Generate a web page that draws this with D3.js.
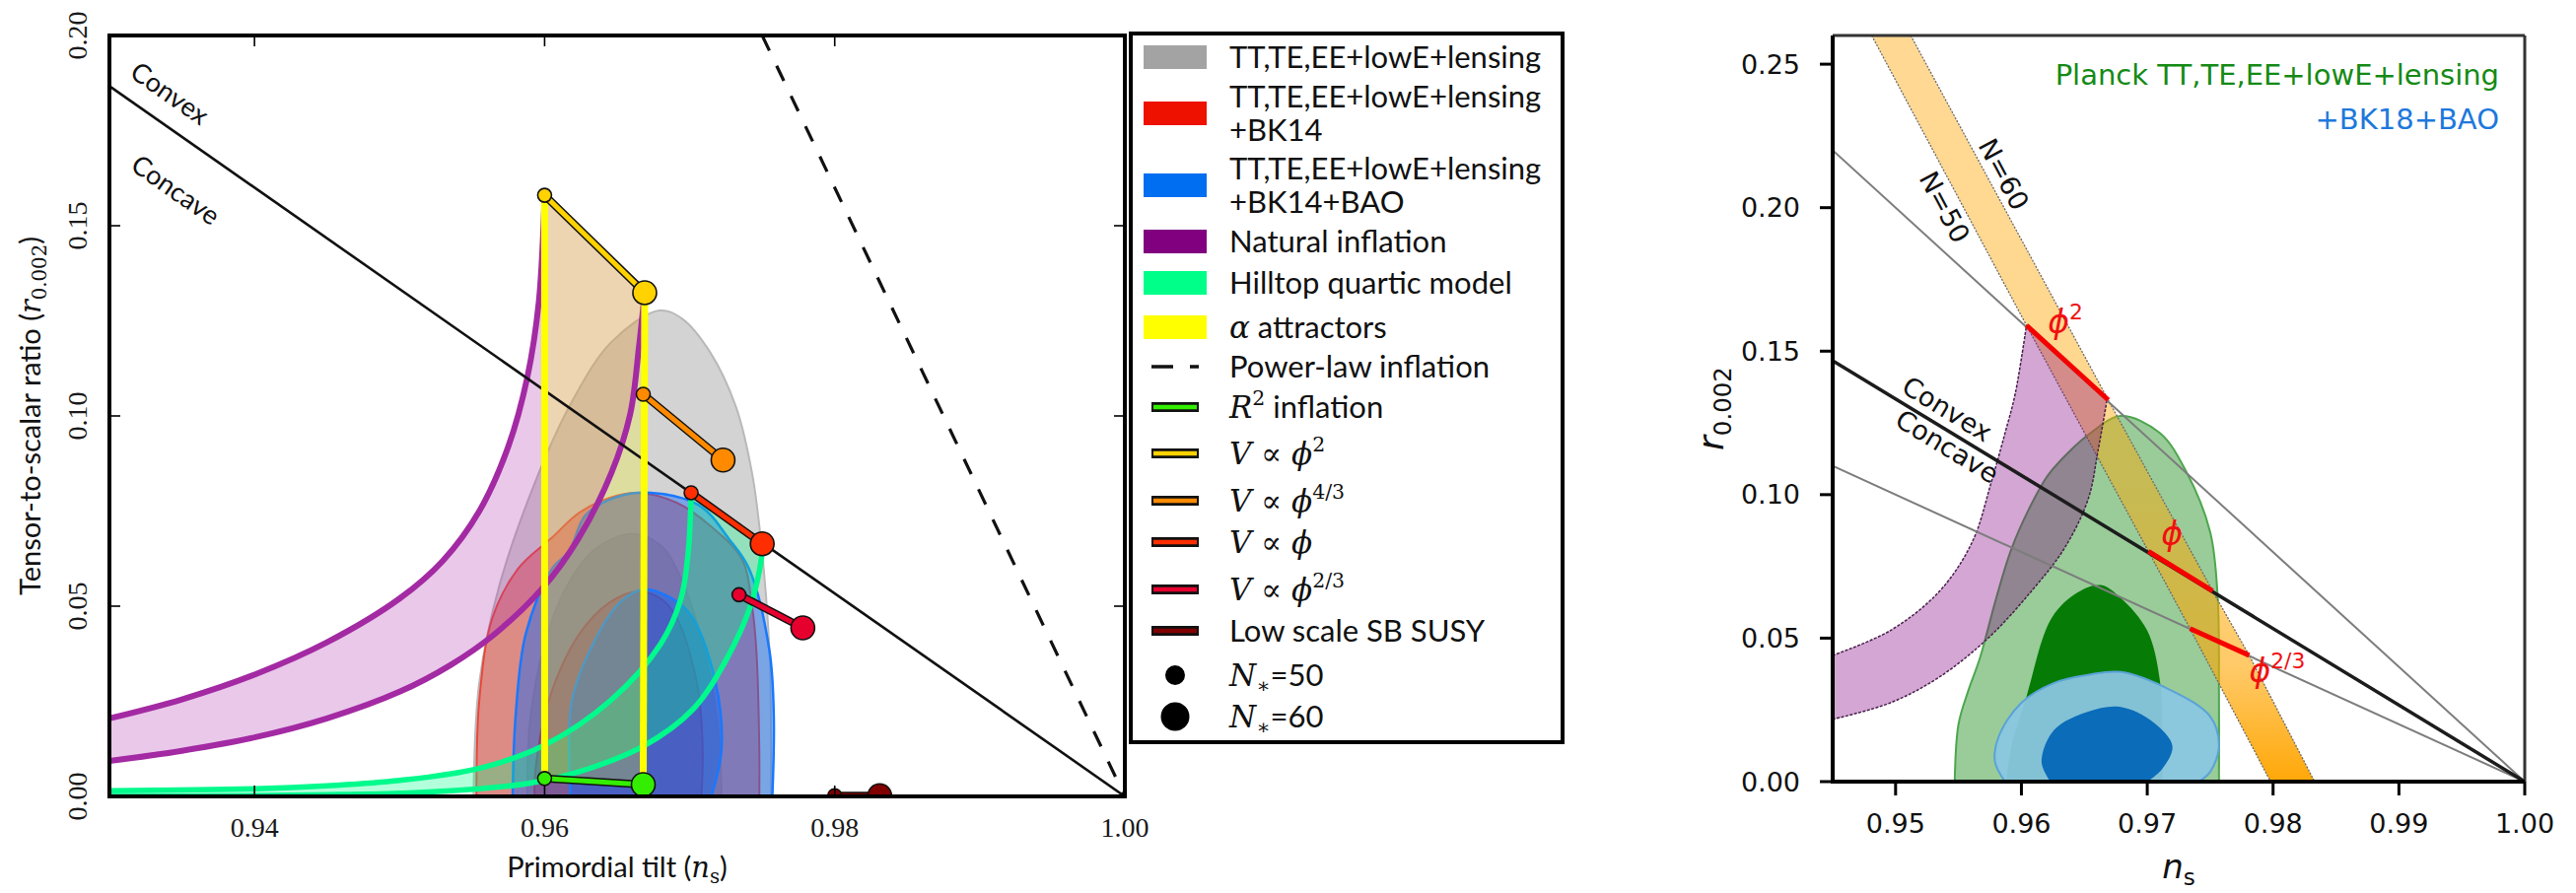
<!DOCTYPE html>
<html>
<head>
<meta charset="utf-8">
<script src="https://d3js.org/d3.v7.min.js"></script>
<style>
  html, body { margin: 0; padding: 0; background: #ffffff; }
  svg { display: block; }
</style>
</head>
<body>
<svg id="fig" width="2613" height="906" xmlns="http://www.w3.org/2000/svg"></svg>
<script>
// ================= Left panel: (n_s, r) constraints and inflation models =================
const leftXTicks = [0.94, 0.96, 0.98, 1.00];
const leftYTicks = [0.00, 0.05, 0.10, 0.15, 0.20];

// 68% / 95% regions, each traced from r = 0 on the left, over the top, back to r = 0
const ttteeeOuter = [[0.9551,0],[0.9555,0.030],[0.9569,0.0557],[0.9596,0.085],[0.9619,0.1039],[0.9646,0.1194],[0.9679,0.1277],[0.9695,0.1255],[0.9714,0.1168],[0.9732,0.1023],[0.9743,0.085],[0.9749,0.0677],[0.9755,0.0383],[0.9756,0]];
const ttteeeInner = [[0.9588,0],[0.9590,0.020],[0.9600,0.040],[0.9615,0.055],[0.9635,0.065],[0.9660,0.069],[0.9680,0.066],[0.9692,0.059],[0.9707,0.043],[0.9717,0.025],[0.9721,0.012],[0.9722,0]];
const bk14Outer = [[0.9553,0],[0.9555,0.0254],[0.9564,0.0469],[0.9582,0.060],[0.9605,0.068],[0.9624,0.0746],[0.9645,0.0785],[0.9664,0.0798],[0.9691,0.0772],[0.9714,0.0712],[0.9736,0.0624],[0.9743,0.050],[0.9746,0.0383],[0.9748,0.0124],[0.9748,0]];
const bk14Inner = [[0.9593,0],[0.9594,0.008],[0.9603,0.0254],[0.9624,0.0427],[0.9645,0.051],[0.9664,0.0539],[0.9680,0.052],[0.9691,0.047],[0.9705,0.0298],[0.9709,0.0124],[0.9708,0]];
const baoOuter = [[0.9578,0],[0.9580,0.021],[0.9587,0.0427],[0.9605,0.0598],[0.9617,0.0645],[0.9628,0.0738],[0.9648,0.0785],[0.9673,0.0798],[0.9707,0.0764],[0.9727,0.0677],[0.9741,0.0598],[0.9755,0.0383],[0.9758,0.021],[0.9757,0]];
const baoInner = [[0.9618,0],[0.9617,0.008],[0.9619,0.0254],[0.9637,0.0427],[0.9652,0.051],[0.9668,0.0544],[0.9688,0.052],[0.9702,0.047],[0.9718,0.0298],[0.9722,0.0124],[0.9715,0]];

// Natural inflation band (N = 50 and N = 60 edges)
const naturalN50 = [[0.9300,0.0205],[0.9350,0.0255],[0.9400,0.0320],[0.9450,0.0405],[0.9500,0.0520],[0.9530,0.0620],[0.9555,0.0750],[0.9575,0.0920],[0.9588,0.1100],[0.9596,0.1300],[0.9600,0.1580]];
const naturalN60 = [[0.9300,0.0093],[0.9350,0.0120],[0.9400,0.0155],[0.9450,0.0205],[0.9500,0.0275],[0.9535,0.0345],[0.9565,0.0425],[0.9598,0.0545],[0.9623,0.0676],[0.9646,0.0850],[0.9659,0.1005],[0.9665,0.1180],[0.9669,0.1324]];

// Hilltop quartic band (N = 50 and N = 60 edges)
const hilltopN50 = [[0.9300,0.0015],[0.9400,0.0020],[0.9450,0.0028],[0.9500,0.0042],[0.9556,0.0075],[0.9600,0.0135],[0.9646,0.0254],[0.9680,0.0401],[0.9694,0.0520],[0.9699,0.0642],[0.9701,0.0798]];
const hilltopN60 = [[0.9300,0.0000],[0.9400,0.0002],[0.9460,0.0005],[0.9510,0.0010],[0.9555,0.0020],[0.9590,0.0035],[0.9624,0.0065],[0.9668,0.0132],[0.9702,0.0228],[0.9725,0.0358],[0.9743,0.0513],[0.9750,0.0642],[0.9750,0.0664]];

// alpha attractors: N = 50 and N = 60 lines from the R^2 point to the phi^2 point
const alphaN50 = [[0.9600,0.0047],[0.9600,0.1580]];
const alphaN60 = [[0.9668,0.0031],[0.9669,0.1324]];

// Reference lines
const convexLine = [[0.930,0.1867],[1.000,0.000]];
const powerLawLine = [[0.975,0.200],[1.000,0.000]];

// Model predictions, [N*=50, N*=60]
const phi2Pts   = [[0.9600,0.1580],[0.9669,0.1324]];
const phi43Pts  = [[0.9668,0.1057],[0.9723,0.0884]];
const phi1Pts   = [[0.9701,0.0798],[0.9750,0.0664]];
const phi23Pts  = [[0.9734,0.0530],[0.9778,0.0443]];
const r2Pts     = [[0.9600,0.0047],[0.9668,0.0031]];
const susyPts   = [[0.9800,0.0002],[0.9831,0.0002]];

// ================= Right panel: BK18 update =================
const rightXTicks = [0.95, 0.96, 0.97, 0.98, 0.99, 1.00];
const rightYTicks = [0.00, 0.05, 0.10, 0.15, 0.20, 0.25];

const planckOuter = [[0.9547,0],[0.9550,0.020],[0.9558,0.032],[0.9567,0.043],[0.9580,0.064],[0.9592,0.081],[0.9606,0.095],[0.9621,0.1067],[0.9638,0.115],[0.9655,0.1215],[0.9679,0.1274],[0.9710,0.1215],[0.9731,0.108],[0.9750,0.087],[0.9756,0.064],[0.9757,0.030],[0.9757,0]];
const planckInner = [[0.9588,0],[0.9592,0.012],[0.9604,0.0296],[0.9624,0.0570],[0.9645,0.0660],[0.9663,0.0685],[0.9679,0.0640],[0.9700,0.0526],[0.9710,0.0354],[0.9712,0.015],[0.9712,0]];
const bk18Outer = [[0.9587,0],[0.9579,0.0069],[0.9582,0.0158],[0.9600,0.0275],[0.9626,0.0344],[0.9653,0.0372],[0.9679,0.0382],[0.9718,0.0320],[0.9750,0.0227],[0.9757,0.0124],[0.9750,0.0034],[0.9741,0]];
const bk18Inner = [[0.9623,0],[0.9616,0.0069],[0.9626,0.0180],[0.9653,0.0244],[0.9679,0.0260],[0.9705,0.0206],[0.9720,0.0124],[0.9712,0.0045],[0.9700,0]];

const naturalOuterR = [[0.9450,0.0440],[0.9496,0.0527],[0.9535,0.0664],[0.9561,0.0836],[0.9576,0.1043],[0.9587,0.1215],[0.9595,0.1350],[0.9604,0.1590]];
const naturalInnerR = [[0.9450,0.0217],[0.9496,0.0275],[0.9535,0.0365],[0.9574,0.0502],[0.9608,0.0664],[0.9634,0.0812],[0.9653,0.0984],[0.9661,0.1156],[0.9668,0.1330]];

const monomialN50 = [[0.9481,0.260],[0.9604,0.159],[0.9701,0.0802],[0.9734,0.0533],[0.9798,0.000]];
const monomialN60 = [[0.9512,0.260],[0.9669,0.133],[0.9752,0.0664],[0.9781,0.0440],[0.9833,0.000]];

const phi2SegR  = [[0.9604,0.159],[0.9669,0.133]];
const phi1SegR  = [[0.9701,0.0802],[0.9752,0.0664]];
const phi23SegR = [[0.9734,0.0533],[0.9781,0.0440]];

const upperGrayR = [[0.945,0.220],[1.000,0.000]];
const convexR    = [[0.945,0.1467],[1.000,0.000]];
const lowerGrayR = [[0.945,0.110],[1.000,0.000]];

// ================= drawing =================
const svg = d3.select("#fig");
const defs = svg.append("defs");

const fontSans = "Lato, 'DejaVu Sans', sans-serif";
const fontMath = "'DejaVu Serif', serif";
const fontTick = "'Liberation Serif', 'DejaVu Serif', serif";
const fontR = "'DejaVu Sans', sans-serif";

const xL = d3.scaleLinear().domain([0.93, 1.00]).range([111, 1141]);
const yL = d3.scaleLinear().domain([0, 0.20]).range([808, 36]);
const xR = d3.scaleLinear().domain([0.945, 1.00]).range([1859, 2561]);
const yR = d3.scaleLinear().domain([0, 0.26]).range([793, 36]);

function addClip(id, x, y) {
  defs.append("clipPath").attr("id", id).append("rect")
    .attr("x", x.range()[0]).attr("y", y.range()[1])
    .attr("width", x.range()[1] - x.range()[0])
    .attr("height", y.range()[0] - y.range()[1]);
}
addClip("clipL", xL, yL);
addClip("clipR", xR, yR);

const curveGen = (x, y) => d3.line().x(d => x(d[0])).y(d => y(d[1])).curve(d3.curveCatmullRom.alpha(0.5));
const lineGen = (x, y) => d3.line().x(d => x(d[0])).y(d => y(d[1]));
const band = (gen, a, b) => gen(a) + gen(b.slice().reverse()).replace(/^M/, "L") + "Z";

// rich text: segments {t, f} with f = sans | i (math italic) | r (math roman) | sup | sub
function addRich(textSel, segs, size, sansFam) {
  let shift = 0;
  segs.forEach(s => {
    const ts = textSel.append("tspan").text(s.t);
    let fam = sansFam || fontSans, style = "normal", fs = size, target = 0;
    if (s.f === "i") { fam = s.fam || fontMath; style = "italic"; }
    if (s.f === "r") { fam = fontMath; }
    if (s.f === "sup") { fam = s.fam || fontMath; fs = size * 0.66; target = -size * 0.42; }
    if (s.f === "sub") { fam = s.fam || fontMath; fs = size * 0.68; target = size * 0.22; }
    ts.attr("font-family", fam).attr("font-style", style).attr("font-size", fs);
    if (target !== shift) { ts.attr("dy", target - shift); shift = target; }
  });
}

// ---------- left panel content ----------
const gL = svg.append("g").attr("clip-path", "url(#clipL)");
const cL = curveGen(xL, yL), sL = lineGen(xL, yL);

function region(g, gen, pts, fill, edge, ew) {
  g.append("path").attr("d", gen(pts) + "Z").attr("fill", fill)
    .attr("stroke", edge).attr("stroke-width", ew);
}
region(gL, cL, ttteeeOuter, "rgba(160,160,160,0.46)", "#b9b9b9", 2);
region(gL, cL, ttteeeInner, "rgba(160,160,160,0.46)", "#b4b4b4", 2);
region(gL, cL, bk14Outer, "rgba(238,17,0,0.37)", "#e8483c", 2);
region(gL, cL, bk14Inner, "rgba(238,17,0,0.37)", "#e0302a", 2);
region(gL, cL, baoOuter, "rgba(0,102,255,0.42)", "#1a78ff", 2.5);
region(gL, cL, baoInner, "rgba(0,102,255,0.42)", "#1a78ff", 2.5);

gL.append("path").attr("d", band(cL, naturalN50, naturalN60)).attr("fill", "rgba(175,50,175,0.27)");
gL.append("path").attr("d", band(cL, hilltopN50, hilltopN60)).attr("fill", "rgba(0,255,136,0.3)");
gL.append("path").attr("d", band(sL, alphaN50, alphaN60)).attr("fill", "rgba(255,255,0,0.24)");

[naturalN50, naturalN60].forEach(c => gL.append("path").attr("d", cL(c)).attr("fill", "none")
  .attr("stroke", "#a32aa3").attr("stroke-width", 6));
[hilltopN50, hilltopN60].forEach(c => gL.append("path").attr("d", cL(c)).attr("fill", "none")
  .attr("stroke", "#00fa8c").attr("stroke-width", 5.5));

gL.append("path").attr("d", sL(convexLine)).attr("fill", "none").attr("stroke", "#111").attr("stroke-width", 2.6);
[alphaN50, alphaN60].forEach(c => gL.append("path").attr("d", sL(c)).attr("fill", "none")
  .attr("stroke", "#ffff00").attr("stroke-width", 7));
gL.append("path").attr("d", sL(powerLawLine)).attr("fill", "none").attr("stroke", "#111")
  .attr("stroke-width", 3.2).attr("stroke-dasharray", "17,17");

const modelsL = [
  { pts: phi2Pts, color: "#ffd200" },
  { pts: phi43Pts, color: "#ff8a00" },
  { pts: phi1Pts, color: "#ff2e00" },
  { pts: phi23Pts, color: "#e6002e" },
  { pts: r2Pts, color: "#33ee00" },
  { pts: susyPts, color: "#800000" }
];
modelsL.forEach(m => {
  gL.append("path").attr("d", sL(m.pts)).attr("stroke", "#111").attr("stroke-width", 8).attr("fill", "none");
  gL.append("path").attr("d", sL(m.pts)).attr("stroke", m.color).attr("stroke-width", 5).attr("fill", "none");
  gL.append("circle").attr("cx", xL(m.pts[0][0])).attr("cy", yL(m.pts[0][1])).attr("r", 7)
    .attr("fill", m.color).attr("stroke", "#111").attr("stroke-width", 1.6);
  gL.append("circle").attr("cx", xL(m.pts[1][0])).attr("cy", yL(m.pts[1][1])).attr("r", 12)
    .attr("fill", m.color).attr("stroke", "#111").attr("stroke-width", 1.6);
});

// Convex / Concave annotations along r = 8(1-n_s)/3
const angL = Math.atan2(yL(convexLine[1][1]) - yL(convexLine[0][1]), xL(convexLine[1][0]) - xL(convexLine[0][0])) * 180 / Math.PI;
[["Convex", 0.9342, 0.1850], ["Concave", 0.9346, 0.1596]].forEach(([t, ns, r]) => {
  svg.append("text").attr("transform", `translate(${xL(ns)},${yL(r)}) rotate(${angL})`)
    .attr("text-anchor", "middle").attr("dominant-baseline", "central")
    .attr("font-family", fontSans).attr("font-size", 27).attr("fill", "#111").text(t);
});

// frame and ticks
svg.append("rect").attr("x", xL.range()[0]).attr("y", yL.range()[1])
  .attr("width", xL.range()[1] - xL.range()[0]).attr("height", yL.range()[0] - yL.range()[1])
  .attr("fill", "none").attr("stroke", "#000").attr("stroke-width", 4);
leftXTicks.filter(v => v < 1.0).forEach(v => {
  svg.append("line").attr("x1", xL(v)).attr("x2", xL(v)).attr("y1", yL(0)).attr("y2", yL(0) - 11).attr("stroke", "#000").attr("stroke-width", 1.6);
  svg.append("line").attr("x1", xL(v)).attr("x2", xL(v)).attr("y1", yL(0.2)).attr("y2", yL(0.2) + 11).attr("stroke", "#000").attr("stroke-width", 1.6);
});
leftYTicks.filter(v => v > 0 && v < 0.2).forEach(v => {
  svg.append("line").attr("x1", xL(0.93)).attr("x2", xL(0.93) + 11).attr("y1", yL(v)).attr("y2", yL(v)).attr("stroke", "#000").attr("stroke-width", 1.6);
  svg.append("line").attr("x1", xL(1.0)).attr("x2", xL(1.0) - 11).attr("y1", yL(v)).attr("y2", yL(v)).attr("stroke", "#000").attr("stroke-width", 1.6);
});
leftXTicks.forEach(v => {
  svg.append("text").attr("x", xL(v)).attr("y", 849).attr("text-anchor", "middle")
    .attr("font-family", fontTick).attr("font-size", 28).attr("fill", "#1a1a1a").text(v.toFixed(2));
});
leftYTicks.forEach(v => {
  svg.append("text").attr("transform", `translate(${88},${yL(v)}) rotate(-90)`).attr("text-anchor", "middle")
    .attr("font-family", fontTick).attr("font-size", 28).attr("fill", "#1a1a1a").text(v.toFixed(2));
});

// axis titles
const xt = svg.append("text").attr("x", (xL.range()[0] + xL.range()[1]) / 2).attr("y", 890)
  .attr("text-anchor", "middle").attr("fill", "#111");
addRich(xt, [{ t: "Primordial tilt (" }, { t: "n", f: "i" }, { t: "s", f: "sub" }, { t: ")" }], 29);
const yt = svg.append("text").attr("transform", `translate(41,${(yL.range()[0] + yL.range()[1]) / 2}) rotate(-90)`)
  .attr("text-anchor", "middle").attr("fill", "#111");
addRich(yt, [{ t: "Tensor-to-scalar ratio (" }, { t: "r", f: "i" }, { t: "0.002", f: "sub" }, { t: ")" }], 29);

// ---------- left legend ----------
const legendItems = [
  { kind: "patch", color: "#a3a3a3", lines: [[{ t: "TT,TE,EE+lowE+lensing" }]] },
  { kind: "patch", color: "#ee1100", lines: [[{ t: "TT,TE,EE+lowE+lensing" }], [{ t: "+BK14" }]] },
  { kind: "patch", color: "#006ef0", lines: [[{ t: "TT,TE,EE+lowE+lensing" }], [{ t: "+BK14+BAO" }]] },
  { kind: "patch", color: "#800080", lines: [[{ t: "Natural inflation" }]] },
  { kind: "patch", color: "#00ff88", lines: [[{ t: "Hilltop quartic model" }]] },
  { kind: "patch", color: "#ffff00", lines: [[{ t: "α", f: "i" }, { t: " attractors" }]] },
  { kind: "dash", lines: [[{ t: "Power-law inflation" }]] },
  { kind: "line", color: "#33ee00", lines: [[{ t: "R", f: "i" }, { t: "2", f: "sup" }, { t: " inflation" }]] },
  { kind: "line", color: "#ffd200", lines: [[{ t: "V", f: "i" }, { t: " ∝ ", f: "r" }, { t: "ϕ", f: "i" }, { t: "2", f: "sup" }]] },
  { kind: "line", color: "#ff8a00", lines: [[{ t: "V", f: "i" }, { t: " ∝ ", f: "r" }, { t: "ϕ", f: "i" }, { t: "4/3", f: "sup" }]] },
  { kind: "line", color: "#ff2e00", lines: [[{ t: "V", f: "i" }, { t: " ∝ ", f: "r" }, { t: "ϕ", f: "i" }]] },
  { kind: "line", color: "#e6002e", lines: [[{ t: "V", f: "i" }, { t: " ∝ ", f: "r" }, { t: "ϕ", f: "i" }, { t: "2/3", f: "sup" }]] },
  { kind: "line", color: "#800000", lines: [[{ t: "Low scale SB SUSY" }]] },
  { kind: "dot", size: 10, lines: [[{ t: "N", f: "i" }, { t: "∗", f: "sub" }, { t: "=50" }]] },
  { kind: "dot", size: 14.5, lines: [[{ t: "N", f: "i" }, { t: "∗", f: "sub" }, { t: "=60" }]] }
];
const legendRowY = [58, 98, 171, 245, 287, 332, 372, 413, 460, 508, 550, 598, 640, 685, 727];
const legendLineGap = 34;
const lg = svg.append("g");
lg.append("rect").attr("x", 1147).attr("y", 34).attr("width", 438).attr("height", 719)
  .attr("fill", "#fff").attr("stroke", "#000").attr("stroke-width", 4);
legendItems.forEach((it, i) => {
  const y0 = legendRowY[i];
  const yc = y0 + (it.lines.length - 1) * legendLineGap / 2;
  if (it.kind === "patch") {
    lg.append("rect").attr("x", 1160).attr("y", yc - 12).attr("width", 64).attr("height", 24).attr("fill", it.color);
  } else if (it.kind === "dash") {
    lg.append("line").attr("x1", 1168).attr("x2", 1216).attr("y1", yc).attr("y2", yc)
      .attr("stroke", "#111").attr("stroke-width", 3.5).attr("stroke-dasharray", "22,17");
  } else if (it.kind === "line") {
    lg.append("line").attr("x1", 1168).attr("x2", 1216).attr("y1", yc).attr("y2", yc).attr("stroke", "#111").attr("stroke-width", 10);
    lg.append("line").attr("x1", 1170).attr("x2", 1214).attr("y1", yc).attr("y2", yc).attr("stroke", it.color).attr("stroke-width", 4.5);
  } else if (it.kind === "dot") {
    lg.append("circle").attr("cx", 1192).attr("cy", yc).attr("r", it.size).attr("fill", "#000");
  }
  it.lines.forEach((segs, k) => {
    const t = lg.append("text").attr("x", 1247).attr("y", y0 + k * legendLineGap + 11).attr("fill", "#111");
    addRich(t, segs, 31);
  });
});

// ---------- right panel content ----------
const gR = svg.append("g").attr("clip-path", "url(#clipR)");
const cR = curveGen(xR, yR), sR = lineGen(xR, yR);

region(gR, cR, planckOuter, "rgba(0,128,0,0.4)", "#4fa64f", 2);
region(gR, cR, planckInner, "#067c06", "none", 0);
region(gR, cR, bk18Outer, "rgba(138,198,224,0.95)", "#5aa3d8", 2);
region(gR, cR, bk18Inner, "#0b6cb9", "none", 0);

const grad = defs.append("linearGradient").attr("id", "monoGrad").attr("gradientUnits", "userSpaceOnUse")
  .attr("x1", 0).attr("x2", 0).attr("y1", yR(0.26)).attr("y2", yR(0));
[[0, 0.42], [0.6, 0.45], [0.85, 0.6], [1, 0.97]].forEach(([o, a]) =>
  grad.append("stop").attr("offset", o).attr("stop-color", "rgb(255,165,0)").attr("stop-opacity", a));
gR.append("path").attr("d", band(sR, monomialN50, monomialN60)).attr("fill", "url(#monoGrad)");
[monomialN50, monomialN60].forEach(c => gR.append("path").attr("d", sR(c)).attr("fill", "none")
  .attr("stroke", "#6b6b6b").attr("stroke-width", 1.3).attr("stroke-dasharray", "2,1.5"));

gR.append("path").attr("d", band(cR, naturalOuterR, naturalInnerR)).attr("fill", "rgba(128,0,128,0.35)");
[naturalOuterR, naturalInnerR].forEach(c => gR.append("path").attr("d", cR(c)).attr("fill", "none")
  .attr("stroke", "#4a1f4a").attr("stroke-width", 1.5).attr("stroke-dasharray", "3,1.5"));

[upperGrayR, lowerGrayR].forEach(c => gR.append("path").attr("d", sR(c)).attr("fill", "none")
  .attr("stroke", "#7d7d7d").attr("stroke-width", 2));
gR.append("path").attr("d", sR(convexR)).attr("fill", "none").attr("stroke", "#1c1c1c").attr("stroke-width", 3.5);

[phi2SegR, phi1SegR, phi23SegR].forEach(c => gR.append("path").attr("d", sR(c)).attr("fill", "none")
  .attr("stroke", "#f50000").attr("stroke-width", 5));

// annotations
const angR = Math.atan2(yR(convexR[1][1]) - yR(convexR[0][1]), xR(convexR[1][0]) - xR(convexR[0][0])) * 180 / Math.PI;
const angBand = Math.atan2(yR(monomialN50[4][1]) - yR(monomialN50[0][1]), xR(monomialN50[4][0]) - xR(monomialN50[0][0])) * 180 / Math.PI;
[["Convex", 0.9541, 0.1298, angR], ["Concave", 0.9541, 0.1168, angR],
 ["N=50", 0.9539, 0.2002, angBand], ["N=60", 0.9586, 0.2116, angBand]].forEach(([t, ns, r, a]) => {
  svg.append("text").attr("transform", `translate(${xR(ns)},${yR(r)}) rotate(${a})`)
    .attr("text-anchor", "middle").attr("dominant-baseline", "central")
    .attr("font-family", fontR).attr("font-size", 27).attr("fill", "#111").text(t);
});
const phiLabels = [
  { ns: 0.9621, r: 0.1563, sup: "2" },
  { ns: 0.9711, r: 0.0824, sup: "" },
  { ns: 0.9781, r: 0.0347, sup: "2/3" }
];
phiLabels.forEach(p => {
  const t = svg.append("text").attr("x", xR(p.ns)).attr("y", yR(p.r)).attr("fill", "#f01010");
  const segs = [{ t: "ϕ", f: "i", fam: fontR }];
  if (p.sup) segs.push({ t: p.sup, f: "sup", fam: fontR });
  addRich(t, segs, 33, fontR);
});

svg.append("text").attr("x", 2535).attr("y", 86).attr("text-anchor", "end")
  .attr("font-family", fontR).attr("font-size", 29).attr("fill", "#158a15").text("Planck TT,TE,EE+lowE+lensing");
svg.append("text").attr("x", 2535).attr("y", 131).attr("text-anchor", "end")
  .attr("font-family", fontR).attr("font-size", 29).attr("fill", "#1e78dc").text("+BK18+BAO");

// frame, ticks, labels
svg.append("line").attr("x1", xR(0.945)).attr("x2", xR(1.0)).attr("y1", yR(0.26)).attr("y2", yR(0.26)).attr("stroke", "#333").attr("stroke-width", 3);
svg.append("line").attr("x1", xR(1.0)).attr("x2", xR(1.0)).attr("y1", yR(0)).attr("y2", yR(0.26)).attr("stroke", "#333").attr("stroke-width", 3);
svg.append("line").attr("x1", xR(0.945)).attr("x2", xR(0.945)).attr("y1", yR(0) + 2).attr("y2", yR(0.26)).attr("stroke", "#000").attr("stroke-width", 4);
svg.append("line").attr("x1", xR(0.945) - 2).attr("x2", xR(1.0)).attr("y1", yR(0)).attr("y2", yR(0)).attr("stroke", "#000").attr("stroke-width", 4);
rightXTicks.forEach(v => {
  svg.append("line").attr("x1", xR(v)).attr("x2", xR(v)).attr("y1", yR(0)).attr("y2", yR(0) + 14).attr("stroke", "#000").attr("stroke-width", 3);
  svg.append("text").attr("x", xR(v)).attr("y", 845).attr("text-anchor", "middle")
    .attr("font-family", fontR).attr("font-size", 27).attr("fill", "#111").text(v.toFixed(2));
});
rightYTicks.forEach(v => {
  svg.append("line").attr("x1", xR(0.945)).attr("x2", xR(0.945) - 13).attr("y1", yR(v)).attr("y2", yR(v)).attr("stroke", "#000").attr("stroke-width", 3);
  svg.append("text").attr("x", 1826).attr("y", yR(v)).attr("text-anchor", "end").attr("dominant-baseline", "central")
    .attr("font-family", fontR).attr("font-size", 27).attr("fill", "#111").text(v.toFixed(2));
});
const xtR = svg.append("text").attr("x", (xR.range()[0] + xR.range()[1]) / 2).attr("y", 891)
  .attr("text-anchor", "middle").attr("fill", "#111");
addRich(xtR, [{ t: "n", f: "i", fam: fontR }, { t: "s", f: "sub", fam: fontR }], 34, fontR);
const ytR = svg.append("text").attr("transform", `translate(1748,${(yR.range()[0] + yR.range()[1]) / 2}) rotate(-90)`)
  .attr("text-anchor", "middle").attr("fill", "#111");
addRich(ytR, [{ t: "r", f: "i", fam: fontR }, { t: "0.002", f: "sub", fam: fontR }], 36, fontR);
</script>
</body>
</html>
